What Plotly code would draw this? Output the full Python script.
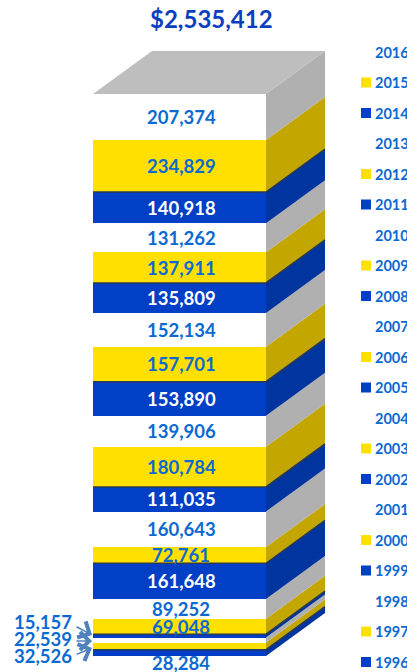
import plotly.graph_objects as go

years = [1996,1997,1998,1999,2000,2001,2002,2003,2004,2005,2006,2007,2008,2009,2010,2011,2012,2013,2014,2015,2016]
values = [28284,32526,22539,15157,69048,89252,161648,72761,160643,111035,180784,139906,153890,157701,152134,135809,137911,131262,140918,234829,207374]
total_label = "$2,535,412"

W, H = 407, 672
BASE_PX, TOP_PX = 656, 94
total = sum(values)
k = (BASE_PX - TOP_PX) / total
def v2y(px):
    return (BASE_PX - px) / k
X0, X1, DX = 93, 266, 59
DEPTH = 43 / k

FRONT = {"b": "#003FC6", "y": "#FFE000", "w": "#FFFFFF"}
SIDE = {"b": "#00349E", "y": "#C4A600", "w": "#B0B0B0"}
kinds = ["b", "y", "w"]
LABEL = "#0A6AD2"
FONT = "Lato"

fig = go.Figure()
cum = 0
annotations = []
for i, (yr, v) in enumerate(zip(years, values)):
    kind = kinds[i % 3]
    b, t = cum, cum + v
    cum = t
    fig.add_trace(go.Bar(x=[(X0 + X1) / 2], y=[v], width=[X1 - X0], name=str(yr),
                         marker=dict(color=FRONT[kind], line=dict(width=0)),
                         showlegend=False, hoverinfo="name+y"))
    fig.add_trace(go.Scatter(x=[X1, X1 + DX, X1 + DX, X1, X1],
                             y=[b, b + DEPTH, t + DEPTH, t, b],
                             fill="toself", fillcolor=SIDE[kind], mode="lines",
                             line=dict(width=0), showlegend=False, hoverinfo="skip"))
    if kind == "y":
        fig.add_trace(go.Scatter(x=[X0, X1, X1 + DX], y=[b, b, b + DEPTH], mode="lines",
                                 line=dict(color="#2A3A50", width=1.5),
                                 showlegend=False, hoverinfo="skip"))

# top face
fig.add_trace(go.Scatter(x=[X0, X1, X1 + DX, X0 + DX, X0],
                         y=[total, total, total + DEPTH, total + DEPTH, total],
                         fill="toself", fillcolor="#BEBEBE", mode="lines", line=dict(width=0),
                         showlegend=False, hoverinfo="skip"))

# data labels
cum = 0
side_labels = {1999: (43, 622, 75, 626), 1998: (43, 639, 75, 641), 1997: (43, 656, 75, 655)}
targets = {1999: 635, 1998: 641, 1997: 648}
for i, (yr, v) in enumerate(zip(years, values)):
    kind = kinds[i % 3]
    mid = cum + v / 2
    cum += v
    if yr in side_labels:
        lx, ly, sx, sy = side_labels[yr]
        annotations.append(dict(x=lx, y=v2y(ly), xref="x", yref="y", text=f"<b>{v:,}</b>", showarrow=False,
                                font=dict(family=FONT, size=18.5, color=LABEL)))
        annotations.append(dict(x=92, y=v2y(targets[yr]), xref="x", yref="y", ax=sx, ay=v2y(sy), axref="x", ayref="y",
                                text="", showarrow=True, arrowhead=4, arrowsize=2.2, arrowwidth=1.6, arrowcolor="#4F81BD"))
    else:
        shift = -10 if yr == 1996 else 0
        annotations.append(dict(x=(X0 + X1) / 2 + 1.5, y=mid, xref="x", yref="y", yshift=shift, text=f"<b>{v:,}</b>",
                                showarrow=False, font=dict(family=FONT, size=18.5, color="#FFFFFF" if kind == "b" and yr != 1996 else LABEL)))

# title
annotations.append(dict(x=211.5, y=v2y(18), xref="x", yref="y", text=f"<b>{total_label}</b>", showarrow=False,
                        font=dict(family=FONT, size=24, color="#0B3FBF")))

# legend entries
sw_x, sw_y, sw_c = [], [], []
for i, yr in enumerate(years):
    py = 662 - 30.5 * i
    annotations.append(dict(x=373, y=v2y(py), xref="x", yref="y", xanchor="left", text=f"<b>{yr}</b>", showarrow=False,
                            font=dict(family=FONT, size=14.5, color=LABEL)))
    if kinds[i % 3] != "w":
        sw_x.append(366)
        sw_y.append(v2y(py))
        sw_c.append(FRONT[kinds[i % 3]])
fig.add_trace(go.Scatter(x=sw_x, y=sw_y, mode="markers", hoverinfo="skip", showlegend=False,
                         marker=dict(symbol="square", size=10, color=sw_c, line=dict(width=0))))

fig.update_layout(barmode="stack", width=W, height=H, margin=dict(l=0, r=0, t=0, b=0),
                  plot_bgcolor="white", paper_bgcolor="white", showlegend=False, annotations=annotations,
                  xaxis=dict(range=[0, W], visible=False, fixedrange=True),
                  yaxis=dict(range=[v2y(H), v2y(0)], visible=False, fixedrange=True))
fig.write_html("out.html", config=dict(displayModeBar=False),
               post_script="document.body.style.margin='0';document.body.style.overflow='hidden';")
